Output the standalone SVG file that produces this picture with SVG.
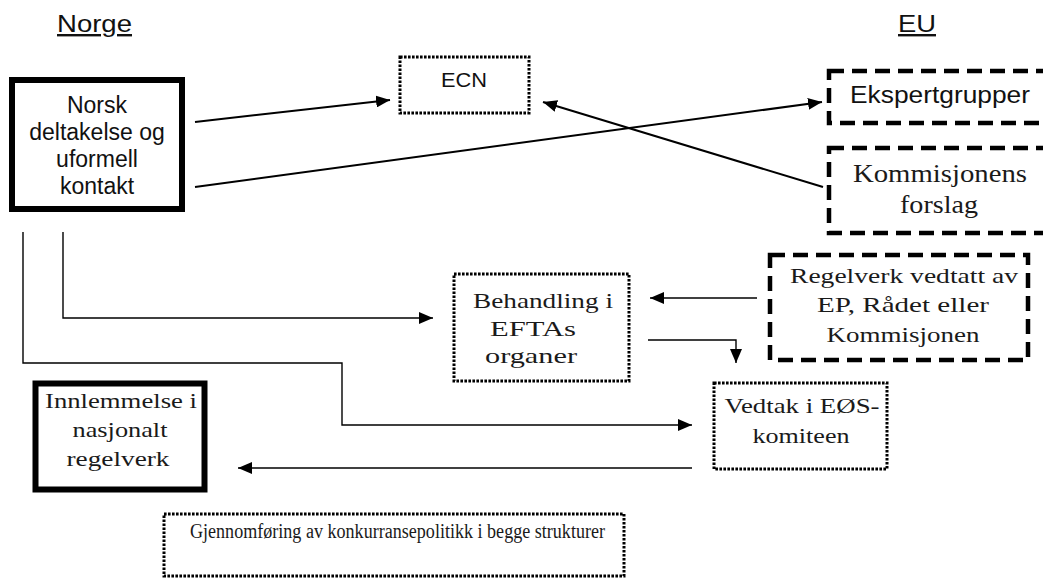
<svg xmlns="http://www.w3.org/2000/svg" width="1043" height="578" viewBox="0 0 1043 578">
<style>
.bg{fill:#fff}
.thick{fill:#fff;stroke:#000;stroke-width:6}
.dash{fill:#fff;stroke:#000;stroke-width:4.5;stroke-dasharray:15 8}
.dot{fill:#fff;stroke:#000;stroke-width:3;stroke-dasharray:2.6 1.4}
.sans{font-family:"Liberation Sans",Arial,sans-serif;fill:#111}
.serif{font-family:"Liberation Serif","Times New Roman",serif;fill:#1a1a1a}
.c{text-anchor:middle}
.conn{fill:none;stroke:#000;stroke-width:1.4}
.diag{fill:none;stroke:#000;stroke-width:2}
</style>
<defs>
<marker id="ah" viewBox="0 0 14 12" refX="14" refY="6" markerWidth="14" markerHeight="12" markerUnits="userSpaceOnUse" orient="auto">
<path d="M0,0 L14,6 L0,12 Z" fill="#000"/>
</marker>
</defs>
<rect class="bg" x="0" y="0" width="1043" height="578"/>

<g id="headers">
<text class="sans" x="57" y="32" font-size="24" textLength="75" lengthAdjust="spacingAndGlyphs" text-decoration="underline">Norge</text>
<text class="sans" x="898" y="32" font-size="24" textLength="38" lengthAdjust="spacingAndGlyphs" text-decoration="underline">EU</text>
</g>

<g id="connectors">
<line class="diag" x1="195" y1="122" x2="390" y2="100" marker-end="url(#ah)"/>
<line class="diag" x1="195" y1="187" x2="822" y2="102" marker-end="url(#ah)"/>
<line class="diag" x1="823" y1="187" x2="543" y2="102" marker-end="url(#ah)"/>
<polyline class="conn" points="63,232 63,318 433,318" marker-end="url(#ah)"/>
<polyline class="conn" points="23,232 23,363 342,363 342,425 692,425" marker-end="url(#ah)"/>
<line class="conn" x1="757" y1="298" x2="650" y2="298" marker-end="url(#ah)"/>
<polyline class="conn" points="648,340 736,340 736,363" marker-end="url(#ah)"/>
<line class="conn" x1="692" y1="468" x2="238" y2="468" marker-end="url(#ah)"/>
</g>

<g id="norsk">
<rect class="thick" x="12" y="80" width="170" height="129"/>
<text class="sans c" font-size="23" x="97" y="113">Norsk</text>
<text class="sans c" font-size="23" x="97" y="140">deltakelse og</text>
<text class="sans c" font-size="23" x="97" y="167">uformell</text>
<text class="sans c" font-size="23" x="97" y="194">kontakt</text>
</g>

<g id="ecn">
<rect class="dot" x="400" y="57" width="129" height="56"/>
<text class="sans c" font-size="21" x="464" y="87" textLength="46" lengthAdjust="spacingAndGlyphs">ECN</text>
</g>

<g id="ekspertgrupper">
<rect class="dash" x="829" y="71" width="240" height="52"/>
<text class="sans" font-size="23" x="850" y="103" textLength="180" lengthAdjust="spacingAndGlyphs">Ekspertgrupper</text>
</g>

<g id="kommisjonens">
<rect class="dash" x="829" y="148" width="240" height="85"/>
<text class="serif c" font-size="26" x="940" y="182" textLength="174" lengthAdjust="spacingAndGlyphs" fill="#333">Kommisjonens</text>
<text class="serif c" font-size="26" x="939" y="213" textLength="78" lengthAdjust="spacingAndGlyphs">forslag</text>
</g>

<g id="regelverk">
<rect class="dash" x="770" y="255" width="258" height="105" stroke-width="5"/>
<text class="serif c" font-size="22" x="904" y="283" textLength="228" lengthAdjust="spacingAndGlyphs">Regelverk vedtatt av</text>
<text class="serif c" font-size="22" x="903" y="312" textLength="172" lengthAdjust="spacingAndGlyphs">EP, Rådet eller</text>
<text class="serif c" font-size="22" x="903" y="342" textLength="153" lengthAdjust="spacingAndGlyphs">Kommisjonen</text>
</g>

<g id="behandling">
<rect class="dot" x="454" y="274" width="175" height="107"/>
<text class="serif c" font-size="22" x="543" y="308" textLength="140" lengthAdjust="spacingAndGlyphs">Behandling  i</text>
<text class="serif c" font-size="22" x="533" y="336" textLength="86" lengthAdjust="spacingAndGlyphs">EFTAs</text>
<text class="serif c" font-size="22" x="531" y="363" textLength="92" lengthAdjust="spacingAndGlyphs">organer</text>
</g>

<g id="vedtak">
<rect class="dot" x="714" y="383" width="173" height="86"/>
<text class="serif c" font-size="22" x="802" y="413" textLength="155" lengthAdjust="spacingAndGlyphs">Vedtak i EØS-</text>
<text class="serif c" font-size="22" x="801" y="443" textLength="97" lengthAdjust="spacingAndGlyphs">komiteen</text>
</g>

<g id="innlemmelse">
<rect class="thick" x="35.5" y="383.5" width="169" height="106" stroke-width="6.5"/>
<text class="serif c" font-size="22" x="121" y="408" textLength="152" lengthAdjust="spacingAndGlyphs">Innlemmelse i</text>
<text class="serif c" font-size="22" x="120" y="437" textLength="95" lengthAdjust="spacingAndGlyphs">nasjonalt</text>
<text class="serif c" font-size="22" x="118" y="466" textLength="103" lengthAdjust="spacingAndGlyphs">regelverk</text>
</g>

<g id="gjennomforing">
<rect class="dot" x="164" y="514" width="460" height="62"/>
<text class="serif" font-size="20" x="190" y="538" textLength="415" lengthAdjust="spacingAndGlyphs">Gjennomføring av konkurransepolitikk i begge strukturer</text>
</g>
</svg>
